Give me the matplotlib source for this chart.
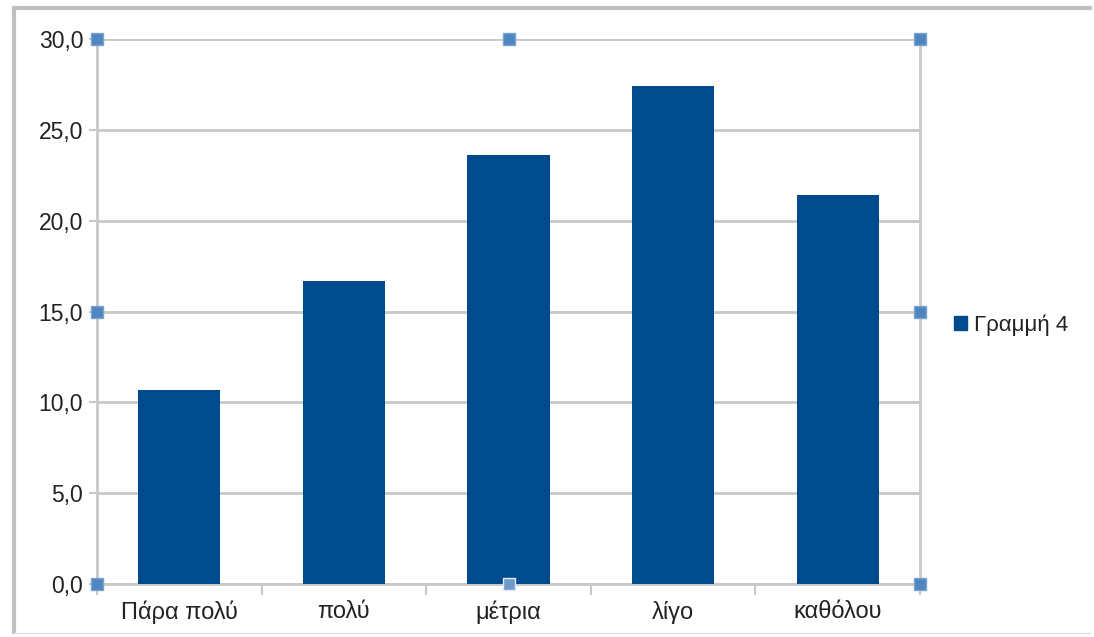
import matplotlib
matplotlib.use("Agg")
import matplotlib.pyplot as plt
from matplotlib.lines import Line2D
from matplotlib.patches import Rectangle

categories = ["Πάρα πολύ", "πολύ", "μέτρια", "λίγο", "καθόλου"]
values = [10.7, 16.7, 23.6, 27.4, 21.4]
series_name = "Γραμμή 4"
yticks = [0, 5, 10, 15, 20, 25, 30]
ytick_labels = ["0,0", "5,0", "10,0", "15,0", "20,0", "25,0", "30,0"]

plt.rcParams['font.family'] = ['Liberation Sans', 'DejaVu Sans']

fig = plt.figure(figsize=(10.94, 6.37), dpi=100)
W, H = 1094, 637
ax = fig.add_axes([97 / W, 1 - 584 / H, (920 - 97) / W, (584 - 39) / H])

bar_color = "#004b8d"
grid_color = "#c8c8c8"
text_color = "#222222"
x = list(range(len(categories)))
ax.bar(x, values, width=0.5, color=bar_color, zorder=3, label=series_name)
ax.set_xlim(-0.5, len(categories) - 0.5)
ax.set_ylim(0, 30)
ax.set_yticks(yticks)
ax.set_yticklabels(ytick_labels, fontsize=16.5, color=text_color)
ax.set_xticks(x)
ax.set_xticklabels(categories, fontsize=17, color=text_color)
ax.tick_params(axis='x', length=0, pad=12)
ax.tick_params(axis='y', length=6, width=1.5, color=grid_color, pad=4)
# category boundary ticks
ax.set_xticks([i - 0.5 for i in range(len(categories) + 1)], minor=True)
ax.tick_params(axis='x', which='minor', length=8, width=1.5, color=grid_color)
ax.yaxis.grid(True, color=grid_color, linewidth=2, zorder=0)
for s in ["top", "right"]:
    ax.spines[s].set_visible(False)
ax.spines["left"].set_color(grid_color)
ax.spines["left"].set_linewidth(2)
ax.spines["bottom"].set_color(grid_color)
ax.spines["bottom"].set_linewidth(2)
ax.axvline(len(categories) - 0.5, color=grid_color, linewidth=2, zorder=1, clip_on=False)

# selection handles
handle_color = "#4f86c0"
for hx, hy in [(0, 0), (0.5, 0), (1, 0), (0, 0.5), (1, 0.5), (0, 1), (0.5, 1), (1, 1)]:
    special = (hx, hy) == (0.5, 0)
    ax.plot([hx], [hy], marker="s", markersize=9,
            color="#6f9bcc" if special else handle_color,
            markeredgecolor="#dfe8f3" if special else "#7aa3d0",
            markeredgewidth=1, transform=ax.transAxes, clip_on=False, zorder=10)

# legend
ax.legend(handles=[Rectangle((0, 0), 1, 1, color=bar_color)], labels=[series_name],
          loc="center left", bbox_to_anchor=(943 / W, 1 - 325 / H),
          bbox_transform=fig.transFigure, frameon=False, fontsize=16,
          handlelength=0.6, handleheight=0.6, handletextpad=0.3, borderpad=0,
          labelcolor=text_color)

# outer frame lines
fig.add_artist(Line2D([14 / W, 14 / W], [1 - 8 / H, 1 - 632 / H], transform=fig.transFigure, color="#c0c0c0", linewidth=3))
fig.add_artist(Line2D([14 / W, 1090 / W], [1 - 8 / H, 1 - 8 / H], transform=fig.transFigure, color="#c0c0c0", linewidth=3))
fig.add_artist(Line2D([14 / W, 1090 / W], [1 - 633 / H, 1 - 633 / H], transform=fig.transFigure, color="#e0e0e0", linewidth=1))

fig.savefig("out.png", dpi=100)
